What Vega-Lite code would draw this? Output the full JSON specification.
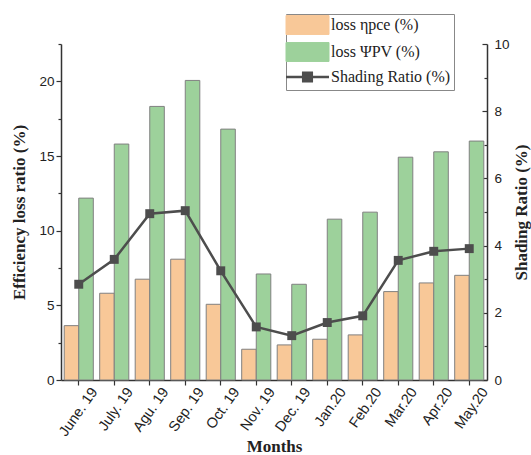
{
  "$schema": "https://vega.github.io/schema/vega-lite/v6.json",
  "width": 426,
  "height": 336,
  "autosize": {"type": "none"},
  "padding": {"left": 61, "top": 44, "right": 44, "bottom": 75},
  "background": "white",
  "config": {
    "view": {"stroke": null},
    "axis": {
      "labelFont": "Liberation Sans",
      "labelFontSize": 13.5,
      "labelColor": "#222",
      "titleFont": "Liberation Serif",
      "titleFontSize": 17,
      "titleFontWeight": "bold",
      "titleColor": "#222",
      "domainColor": "#333",
      "domainWidth": 1.5,
      "tickColor": "#333",
      "tickWidth": 1.2,
      "grid": false
    }
  },
  "data": {
    "values": [
      {"month": "June. 19", "series": "loss ηpce (%)", "value": 3.64},
      {"month": "July. 19", "series": "loss ηpce (%)", "value": 5.81},
      {"month": "Agu. 19", "series": "loss ηpce (%)", "value": 6.75},
      {"month": "Sep. 19", "series": "loss ηpce (%)", "value": 8.09},
      {"month": "Oct. 19", "series": "loss ηpce (%)", "value": 5.07},
      {"month": "Nov. 19", "series": "loss ηpce (%)", "value": 2.06},
      {"month": "Dec. 19", "series": "loss ηpce (%)", "value": 2.35},
      {"month": "Jan.20", "series": "loss ηpce (%)", "value": 2.73},
      {"month": "Feb.20", "series": "loss ηpce (%)", "value": 3.02},
      {"month": "Mar.20", "series": "loss ηpce (%)", "value": 5.92},
      {"month": "Apr.20", "series": "loss ηpce (%)", "value": 6.5},
      {"month": "May.20", "series": "loss ηpce (%)", "value": 7.01},
      {"month": "June. 19", "series": "loss ΨPV (%)", "value": 12.18},
      {"month": "July. 19", "series": "loss ΨPV (%)", "value": 15.8},
      {"month": "Agu. 19", "series": "loss ΨPV (%)", "value": 18.32},
      {"month": "Sep. 19", "series": "loss ΨPV (%)", "value": 20.06},
      {"month": "Oct. 19", "series": "loss ΨPV (%)", "value": 16.8},
      {"month": "Nov. 19", "series": "loss ΨPV (%)", "value": 7.1},
      {"month": "Dec. 19", "series": "loss ΨPV (%)", "value": 6.41},
      {"month": "Jan.20", "series": "loss ΨPV (%)", "value": 10.77},
      {"month": "Feb.20", "series": "loss ΨPV (%)", "value": 11.24},
      {"month": "Mar.20", "series": "loss ΨPV (%)", "value": 14.92},
      {"month": "Apr.20", "series": "loss ΨPV (%)", "value": 15.28},
      {"month": "May.20", "series": "loss ΨPV (%)", "value": 16.0},
      {"month": "June. 19", "series": "Shading Ratio (%)", "value": 2.85},
      {"month": "July. 19", "series": "Shading Ratio (%)", "value": 3.59},
      {"month": "Agu. 19", "series": "Shading Ratio (%)", "value": 4.95},
      {"month": "Sep. 19", "series": "Shading Ratio (%)", "value": 5.04},
      {"month": "Oct. 19", "series": "Shading Ratio (%)", "value": 3.25},
      {"month": "Nov. 19", "series": "Shading Ratio (%)", "value": 1.58},
      {"month": "Dec. 19", "series": "Shading Ratio (%)", "value": 1.32},
      {"month": "Jan.20", "series": "Shading Ratio (%)", "value": 1.71},
      {"month": "Feb.20", "series": "Shading Ratio (%)", "value": 1.91},
      {"month": "Mar.20", "series": "Shading Ratio (%)", "value": 3.56},
      {"month": "Apr.20", "series": "Shading Ratio (%)", "value": 3.83},
      {"month": "May.20", "series": "Shading Ratio (%)", "value": 3.91}
    ]
  },
  "encoding": {
    "x": {
      "field": "month",
      "type": "nominal",
      "sort": null,
      "scale": {"paddingInner": 0.18, "paddingOuter": 0.09},
      "axis": {
        "title": "Months",
        "labelAngle": -55,
        "labelAlign": "right",
        "labelBaseline": "middle",
        "labelFontSize": 14.5,
        "labelPadding": 4,
        "labelOffset": 16,
        "tickSize": 5,
        "titlePadding": 0
      }
    },
    "color": {
      "field": "series",
      "type": "nominal",
      "scale": {
        "domain": ["loss ηpce (%)", "loss ΨPV (%)", "Shading Ratio (%)"],
        "range": ["#F8C898", "#9DD19B", "#4d4d4d"]
      },
      "legend": {
        "title": null,
        "orient": "none",
        "legendX": 225,
        "legendY": -30,
        "direction": "vertical",
        "padding": 3,
        "strokeColor": "#888",
        "fillColor": "white",
        "labelFont": "Liberation Serif",
        "labelFontSize": 16,
        "labelColor": "#222",
        "symbolOffset": 10.5,
        "labelOffset": 15.5,
        "rowPadding": 3,
        "symbolSize": 1849,
        "encode": {
          "symbols": {
            "update": {
              "shape": {"signal": "datum.value === 'Shading Ratio (%)' ? 'M-1,0H1M-0.2,-0.2H0.2V0.2H-0.2Z' : 'M-1,-0.44H1V0.44H-1Z'"},
              "fill": {"signal": "scale('color', datum.value)"},
              "stroke": {"signal": "datum.value === 'Shading Ratio (%)' ? '#4d4d4d' : '#808080'"},
              "strokeWidth": {"signal": "datum.value === 'Shading Ratio (%)' ? 2.5 : 1"},
              "size": {"value": 1849},
              "opacity": {"value": 1},
              "fillOpacity": {"value": 1}
            }
          }
        }
      }
    }
  },
  "layer": [
    {
      "transform": [{"filter": "datum.series !== 'Shading Ratio (%)'"}],
      "mark": {"type": "bar", "stroke": "#808080", "strokeWidth": 1, "opacity": 1},
      "encoding": {
        "xOffset": {"field": "series", "type": "nominal", "sort": ["loss ηpce (%)", "loss ΨPV (%)"]},
        "y": {
          "field": "value",
          "type": "quantitative",
          "scale": {"domain": [0, 22.5], "nice": false},
          "axis": {
            "title": "Efficiency loss ratio (%)",
            "values": [0, 2.5, 5, 7.5, 10, 12.5, 15, 17.5, 20, 22.5],
            "labelExpr": "datum.value % 5 === 0 ? datum.label : ''",
            "tickSize": {"expr": "datum.value % 5 === 0 ? 5 : 3"},
            "titlePadding": 10
          }
        }
      }
    },
    {
      "transform": [{"filter": "datum.series === 'Shading Ratio (%)'"}],
      "mark": {
        "type": "line",
        "strokeWidth": 2.5,
        "point": {"shape": "square", "filled": true, "size": 80, "opacity": 1}
      },
      "encoding": {
        "y": {
          "field": "value",
          "type": "quantitative",
          "scale": {"domain": [0, 10], "nice": false},
          "axis": {
            "orient": "right",
            "title": "Shading Ratio (%)",
            "titleAngle": -90,
            "values": [0, 1, 2, 3, 4, 5, 6, 7, 8, 9, 10],
            "labelExpr": "datum.value % 2 === 0 ? datum.label : ''",
            "tickSize": {"expr": "datum.value % 2 === 0 ? -5 : -3"},
            "labelPadding": 12,
            "titlePadding": 21
          }
        }
      }
    }
  ],
  "resolve": {"scale": {"y": "independent"}, "axis": {"y": "independent"}}
}
